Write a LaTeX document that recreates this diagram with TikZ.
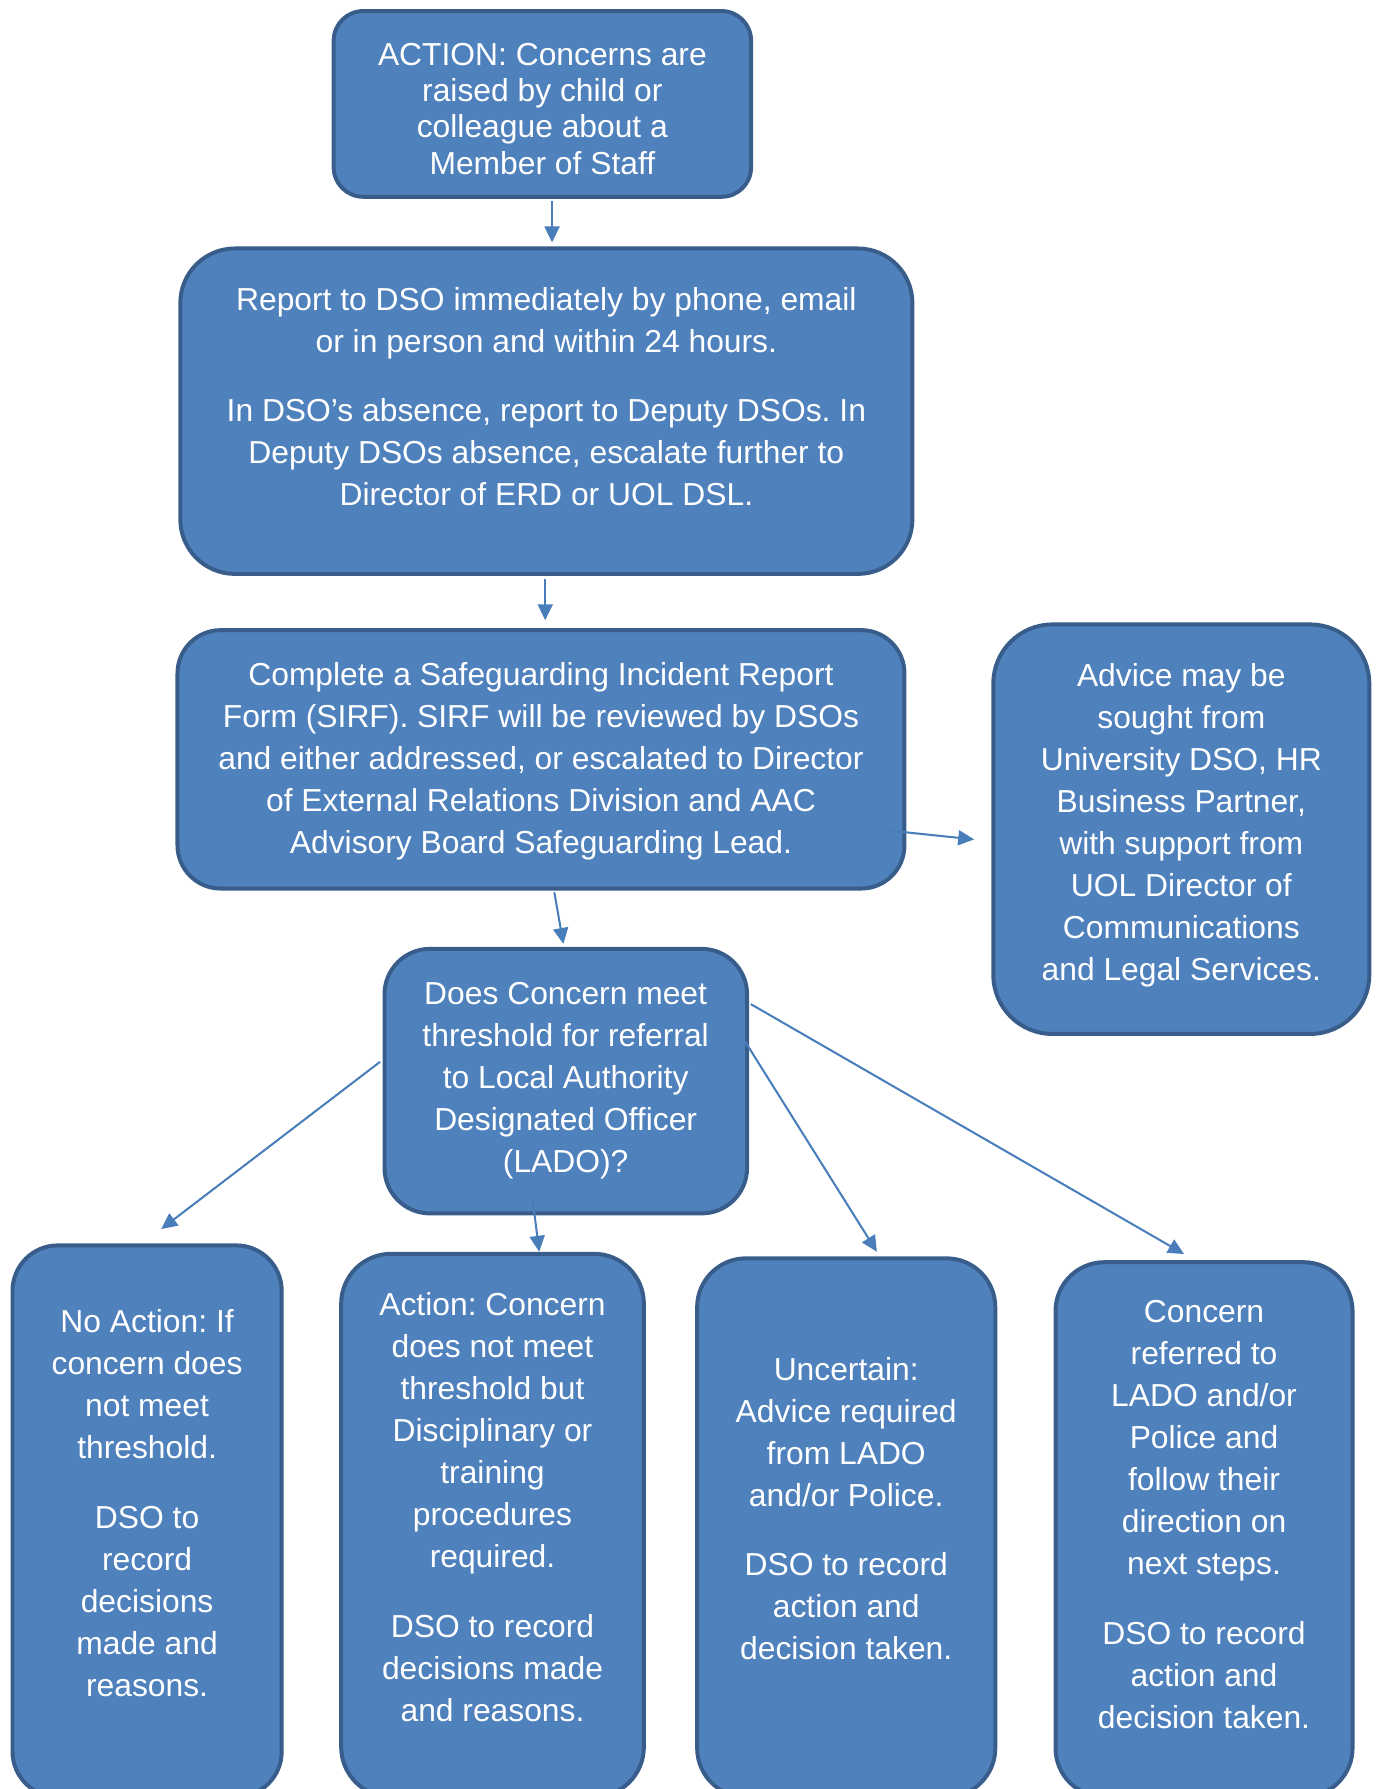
\documentclass[tikz,border=0pt]{standalone}
\usepackage{fontspec}
\setmainfont{Liberation Sans}
\usetikzlibrary{arrows.meta}
\definecolor{boxfill}{HTML}{4F81BD}
\definecolor{boxline}{HTML}{385D8A}
\definecolor{arrowc}{HTML}{4A7EBB}
\newcommand{\fls}{\rule{0pt}{13pt}}
\begin{document}
\frenchspacing
\begin{tikzpicture}[x=0.5pt,y=-0.5pt,
  box/.style={draw=boxline, fill=boxfill, line width=1.75pt, inner sep=0pt, outer sep=0pt, rectangle},
  txt/.style={text=white, align=center, anchor=north, inner sep=0pt, font=\fontsize{14}{18.5}\selectfont\frenchspacing},
  txttop/.style={txt, font=\fontsize{14}{16}\selectfont\frenchspacing},
  arr/.style={draw=arrowc, line width=0.9pt, -{Triangle[length=7pt,width=6.6pt]}}]

\useasboundingbox (0,0) rectangle (1216,1575);

% boxes
\node[box, minimum width=183.75pt, minimum height=81.75pt, rounded corners=13pt] (top) at (477.5,91.5) {};
\node[box, minimum width=322.25pt, minimum height=143.25pt, rounded corners=24pt] (report) at (481,362) {};
\node[box, minimum width=320pt, minimum height=113.75pt, rounded corners=19pt] (sirf) at (476.25,668.5) {};
\node[box, minimum width=165.5pt, minimum height=180.25pt, rounded corners=26pt] (advice) at (1040,730) {};
\node[box, minimum width=159.6pt, minimum height=116.45pt, rounded corners=20pt] (lado) at (498.1,951.8) {};
\node[box, minimum width=118.5pt, minimum height=242.8pt, rounded corners=20pt] (bone) at (129.5,1339.2) {};
\node[box, minimum width=133.25pt, minimum height=239.1pt, rounded corners=22pt] (btwo) at (433.6,1342.9) {};
\node[box, minimum width=131.25pt, minimum height=237.1pt, rounded corners=21.5pt] (bthree) at (745,1344.9) {};
\node[box, minimum width=130.75pt, minimum height=235.4pt, rounded corners=21.5pt] (bfour) at (1060,1346.6) {};

% connector end points
\coordinate (a1s) at (486,177);    \coordinate (a1e) at (486,213.4);
\coordinate (a2s) at (480,510);    \coordinate (a2e) at (480,546);
\coordinate (a3s) at (488,785.5);  \coordinate (a3e) at (496,831);
\coordinate (a4s) at (784.5,731.4);\coordinate (a4e) at (857.6,739);
\coordinate (a5s) at (334.6,934.8);\coordinate (a5e) at (142,1082);
\coordinate (a6s) at (469,1056.6); \coordinate (a6e) at (474.7,1102);
\coordinate (a7s) at (656,917);    \coordinate (a7e) at (772,1102);
\coordinate (a8s) at (661,884);    \coordinate (a8e) at (1042.4,1104);

\draw[arr] (a1s) -- (a1e);
\draw[arr] (a2s) -- (a2e);
\draw[arr] (a3s) -- (a3e);
\draw[arr] (a4s) -- (a4e);
\draw[arr] (a5s) -- (a5e);
\draw[arr] (a6s) -- (a6e);
\draw[arr] (a7s) -- (a7e);
\draw[arr] (a8s) -- (a8e);

% texts
\node[txttop] (ttop) at (477.5,31) {\fls ACTION: Concerns are\\ raised by child or\\ colleague about a\\ Member of Staff};
\node[txt] (trep) at (481,247) {\fls Report to DSO immediately by phone, email\\ or in person and within 24 hours.\\[12pt] In DSO’s absence, report to Deputy DSOs. In\\ Deputy DSOs absence, escalate further to\\ Director of ERD or UOL DSL.};
\node[txt] (tsirf) at (476.25,577) {\fls Complete a Safeguarding Incident Report\\ Form (SIRF). SIRF will be reviewed by DSOs\\ and either addressed, or escalated to Director\\ of External Relations Division and AAC\\ Advisory Board Safeguarding Lead.};
\node[txt] (tadv) at (1040,577.6) {\fls Advice may be\\ sought from\\ University DSO, HR\\ Business Partner,\\ with support from\\ UOL Director of\\ Communications\\ and Legal Services.};
\node[txt] (tlado) at (498,858) {\fls Does Concern meet\\ threshold for referral\\ to Local Authority\\ Designated Officer\\ (LADO)?};
\node[txt] (tbone) at (129.5,1147) {\fls No Action: If\\ concern does\\ not meet\\ threshold.\\[12pt] DSO to\\ record\\ decisions\\ made and\\ reasons.};
\node[txt] (tbtwo) at (433.6,1132) {\fls Action: Concern\\ does not meet\\ threshold but\\ Disciplinary or\\ training\\ procedures\\ required.\\[12pt] DSO to record\\ decisions made\\ and reasons.};
\node[txt] (tbthree) at (745,1188.6) {\fls Uncertain:\\ Advice required\\ from LADO\\ and/or Police.\\[12pt] DSO to record\\ action and\\ decision taken.};
\node[txt] (tbfour) at (1060,1138) {\fls Concern\\ referred to\\ LADO and/or\\ Police and\\ follow their\\ direction on\\ next steps.\\[12pt] DSO to record\\ action and\\ decision taken.};
\end{tikzpicture}
\end{document}
